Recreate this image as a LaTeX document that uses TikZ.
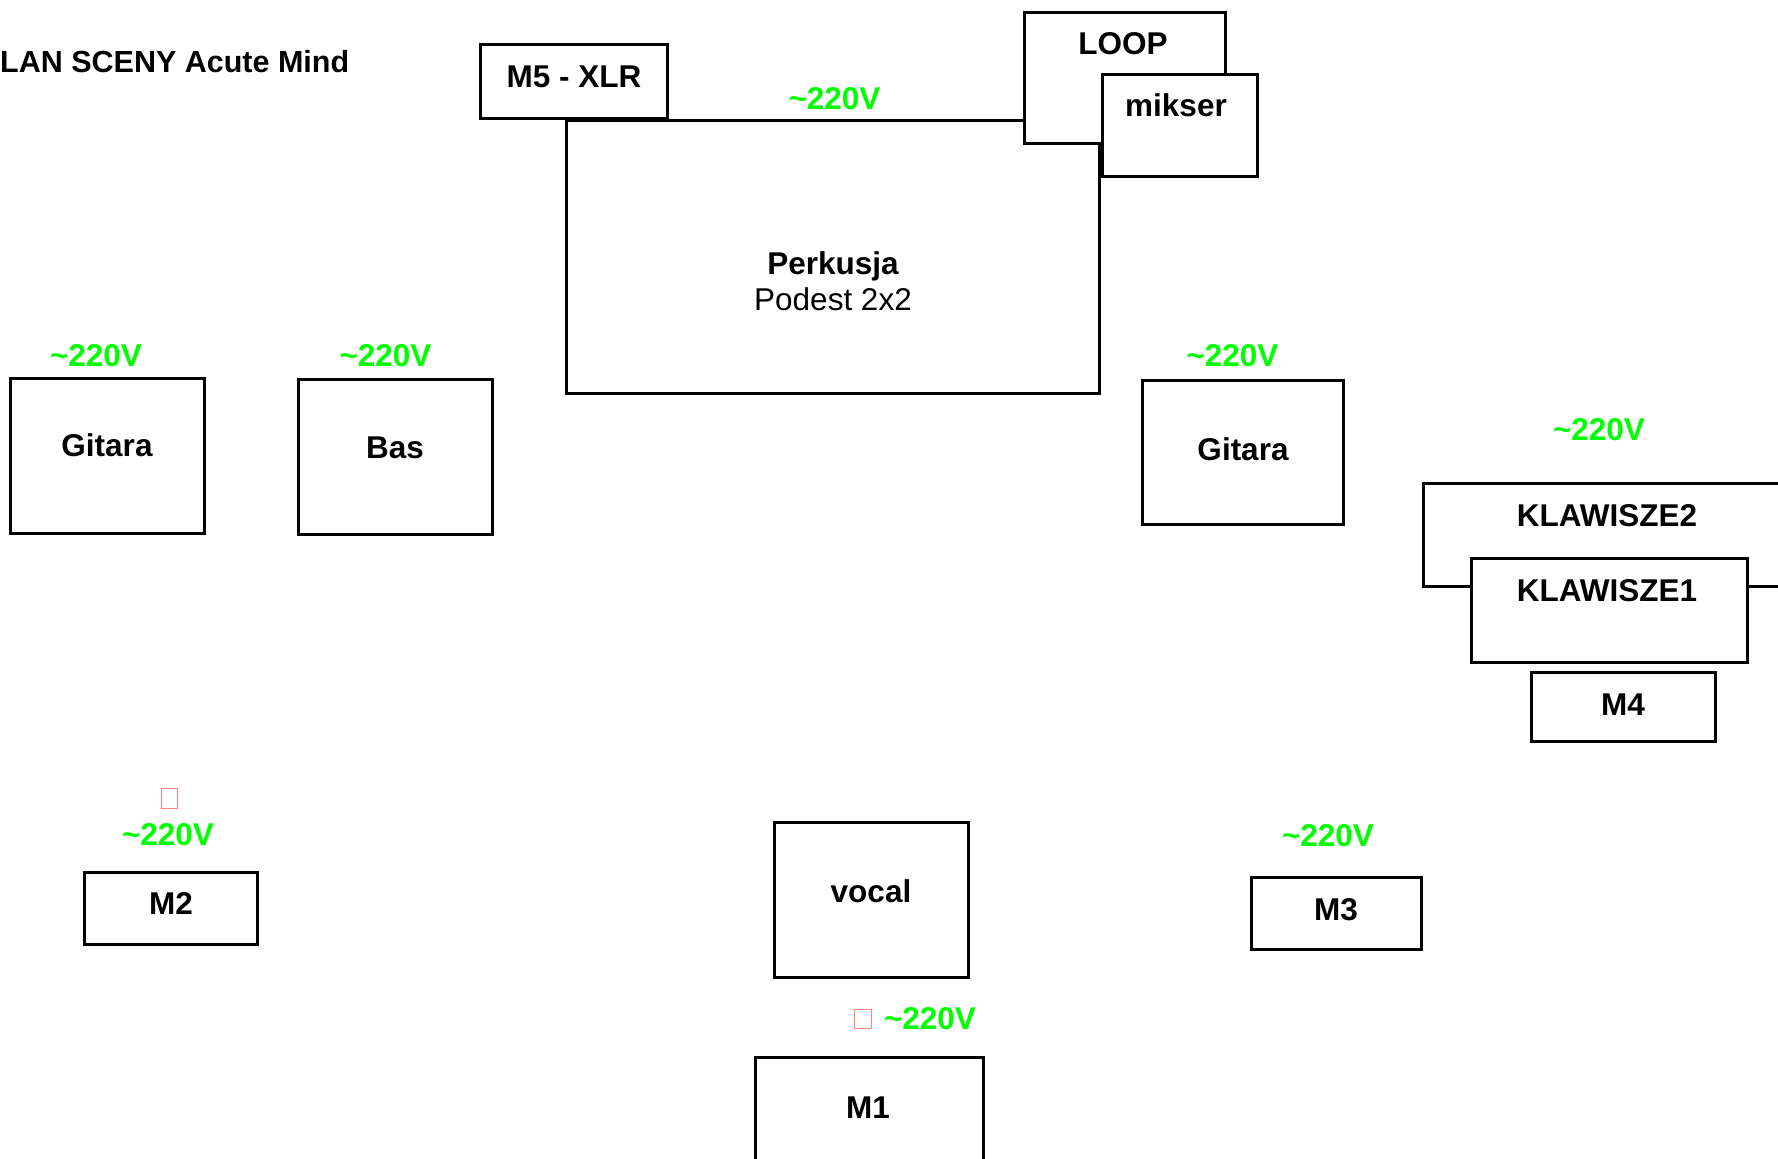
\documentclass[tikz,border=0pt]{standalone}
\usepackage{fontspec}
\setmainfont{Liberation Sans}
\definecolor{volt}{RGB}{0,255,0}
\definecolor{tofu}{RGB}{255,128,128}
\tikzset{
  box/.style={draw=black, fill=white, line width=3pt, inner sep=0pt, outer sep=0pt, rectangle},
  lbl/.style={font=\fontsize{31.5}{38}\selectfont\bfseries, text height=22.5pt, text depth=0pt, inner sep=0pt},
  lblreg/.style={font=\fontsize{31.5}{38}\selectfont, text height=22.5pt, text depth=0pt, inner sep=0pt},
  volts/.style={lbl, text=volt},
  tofubox/.style={draw=tofu, line width=1pt, inner sep=0pt, minimum width=#1},
}
\begin{document}
\begin{tikzpicture}[x=1pt,y=-1pt]
\useasboundingbox[fill=white] (0,0) rectangle (1778,1159);
\clip (0,0) rectangle (1778,1159);

% title
\node[lbl, font=\fontsize{30.5}{36}\selectfont\bfseries, anchor=west] (title) at (0,61) {LAN SCENY Acute Mind};

% drums riser and neighbours
\node[box, minimum width=533pt, minimum height=273pt] (perk) at (832.5,256.5) {};
\node[lbl] (perkl) at (833,263) {Perkusja};
\node[lblreg] (podest) at (833,299) {Podest 2x2};

\node[box, minimum width=187pt, minimum height=74pt] (m5) at (573.5,81) {};
\node[lbl] (m5l) at (574,76) {M5 - XLR};

\node[box, minimum width=201pt, minimum height=131pt] (loop) at (1124.5,77.5) {};
\node[lbl] (loopl) at (1123,43) {LOOP};

\node[box, minimum width=155pt, minimum height=102pt] (mikser) at (1179.5,125) {};
\node[lbl] (mikserl) at (1176,105.5) {mikser};

\node[volts] (v0) at (834.5,98) {\textasciitilde 220V};

% amps
\node[box, minimum width=194pt, minimum height=155pt] (git1) at (107,455.5) {};
\node[lbl] (git1l) at (107,445) {Gitara};
\node[volts] (v1) at (96,355) {\textasciitilde 220V};

\node[box, minimum width=194pt, minimum height=155pt] (bas) at (395,456.5) {};
\node[lbl] (basl) at (395,447) {Bas};
\node[volts] (v2) at (385.5,355) {\textasciitilde 220V};

\node[box, minimum width=201pt, minimum height=144pt] (git2) at (1242.5,452) {};
\node[lbl] (git2l) at (1243,449) {Gitara};
\node[volts] (v3) at (1232.5,355) {\textasciitilde 220V};

% keyboards
\node[volts] (v4) at (1599,429) {\textasciitilde 220V};
\node[box, minimum width=387pt, minimum height=103pt] (kl2) at (1616.5,534.5) {};
\node[lbl] (kl2l) at (1607,515) {KLAWISZE2};
\node[box, minimum width=276pt, minimum height=104pt] (kl1) at (1609,610) {};
\node[lbl] (kl1l) at (1607,590) {KLAWISZE1};
\node[box, minimum width=184pt, minimum height=69pt] (m4) at (1623,707) {};
\node[lbl] (m4l) at (1623,704) {M4};

% monitors front
\node[tofubox=16pt, minimum height=20pt] (t1) at (169,798) {};
\node[volts] (v5) at (168,834) {\textasciitilde 220V};
\node[box, minimum width=173pt, minimum height=72pt] (m2) at (170.5,908) {};
\node[lbl] (m2l) at (171,903) {M2};

\node[box, minimum width=194pt, minimum height=155pt] (vocal) at (871,899.5) {};
\node[lbl] (vocall) at (871,891) {vocal};

\node[volts] (v6) at (1328,835) {\textasciitilde 220V};
\node[box, minimum width=170pt, minimum height=72pt] (m3) at (1336,913) {};
\node[lbl] (m3l) at (1336,909) {M3};

\node[tofubox=17pt, minimum height=19pt] (t2) at (862.5,1018.5) {};
\node[volts] (v7) at (930,1018) {\textasciitilde 220V};
\node[box, minimum width=228pt, minimum height=123pt] (m1) at (869,1118.5) {};
\node[lbl] (m1l) at (868,1107) {M1};
\end{tikzpicture}
\end{document}
